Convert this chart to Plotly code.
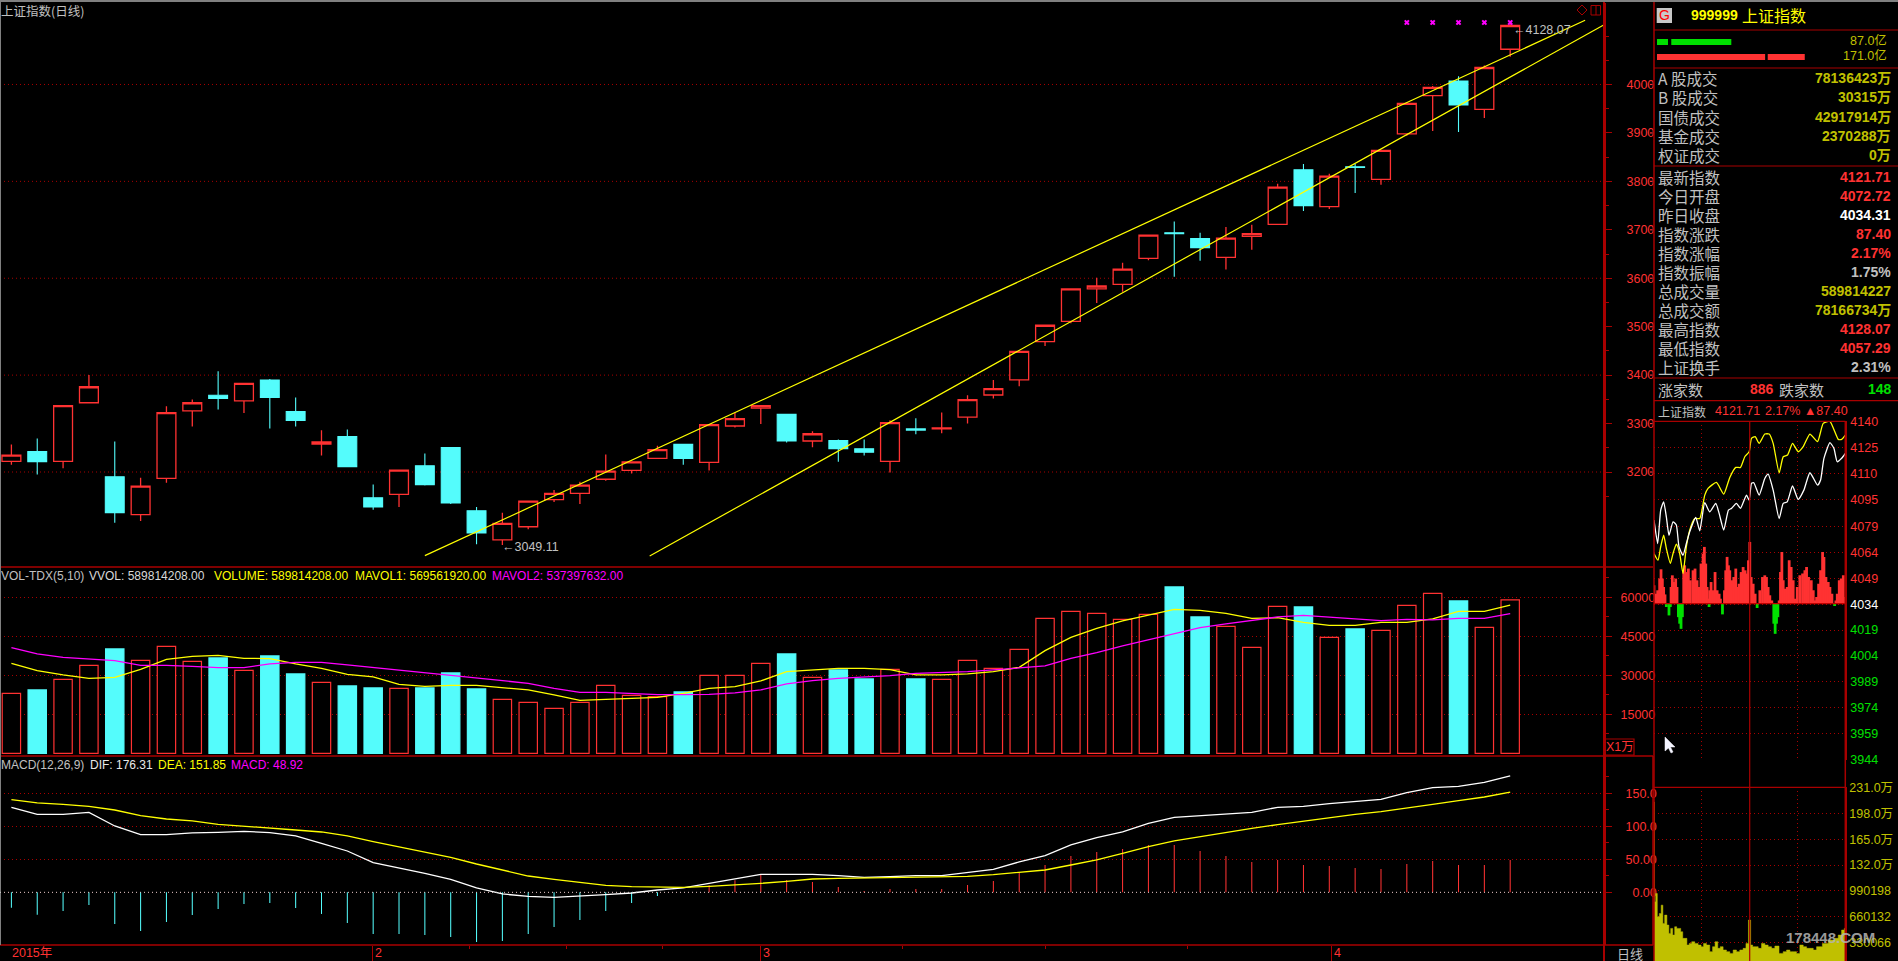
import plotly.graph_objects as go

# ---------- daily data ----------
OPENS = [3222,3242,3222,3343,3190,3112,3187,3326,3358.5,3347,3390,3325,3257.5,3273,3147,3154,3213,3250.5,3120,3060,3087,3143,3156,3185,3203.5,3228,3257,3220,3295,3332,3319,3264,3265,3248,3222,3289,3289,3313.5,3359,3390,3469,3511,3578,3587.5,3641,3694,3682,3643,3686.5,3711,3824,3748,3830,3804,3898,3977,4007,3948.5,4072.72]
HIGHS = [3257,3269,3337,3400,3263,3188,3336,3349.5,3408,3383,3392,3354,3286,3288,3174,3204,3238,3250.5,3128,3116,3140,3163,3180,3236,3221.5,3254,3257,3298,3322,3338,3319,3284,3267,3267,3307,3311,3323,3358.5,3390,3449,3503,3578,3601,3632,3689,3717,3694,3706,3710.5,3795,3836,3815.5,3836,3864,3961,3997,4017,4039,4128.07]
LOWS = [3215,3195,3208,3343,3095,3099,3178,3294,3329,3322,3290,3294,3234,3211,3122,3128,3172,3134,3051,3049.11,3082,3138,3134,3182,3197,3228,3215,3203,3292,3299,3261,3251,3221,3234,3199,3278,3280,3300,3352,3377,3460,3507,3549,3572,3637,3603,3636,3618,3659,3711,3739,3743,3776,3793,3894,3904,3902,3931,4057.29]
CLOSES = [3235,3221.5,3337,3376,3116,3171,3322.5,3343,3352,3383,3354,3306.5,3262,3211,3128,3204,3174,3136,3074,3094,3140,3156,3173,3202,3221,3246,3228,3298,3310,3337,3264,3279,3248,3241,3302,3286.5,3291,3349.5,3372,3449,3503,3578,3584,3619,3689,3692,3663,3683,3692,3788,3750,3811,3828.5,3864,3961,3994,3957.5,4035,4121.71]
DAYS = list(range(len(CLOSES)))
VOLUME = [23076,24358,28460,33845,40127,35768,41152,35383,36665,31922,37434,30512,27307,25896,25127,24999,25127,30896,24743,20768,19615,17307,19615,26153,22307,21794,23589,29999,29999,34614,38204,29230,32050,28589,32306,28589,28460,35768,32691,39998,51921,54613,53844,51536,53459,63972,52434,48844,40768,56536,56280,44614,47819,47306,56921,61536,58587,48460,58981]
MAVOL1 = [34614,31794,30127,28845,29230,32306,36152,37306,37691,36537,36409,34358,32691,30383,29358,26537,25768,26153,26153,25127,24358,22435,20384,20768,21281,21538,23076,24999,25640,27819,31409,32178,32691,32691,32178,30127,30127,30512,31409,33076,39486,44614,48075,50895,53203,55382,54998,53844,51921,52177,50383,49229,49229,50383,50383,51665,54613,54613,56956]
MAVOL2 = [40639,38204,36922,36281,35640,33845,33845,33460,32947,32947,34358,34999,34999,33973,32947,32050,30768,29999,28845,27819,26922,24999,23461,23461,22948,22563,22563,22691,23204,24358,26666,27948,28845,29358,29871,30768,31024,31409,32050,32691,33588,36537,38716,41280,43588,46152,48331,49742,51024,52434,53075,52434,51921,51024,51536,51280,51921,51921,53739]
DIF = [128.8,118.2,118.2,121.2,100.5,87.4,87.4,89.9,90.9,92.4,90.4,85.4,74.2,62.6,44.9,37.4,28.8,19.7,6.6,-2.5,-6.1,-7.6,-6.1,-3.5,-1,3.5,6.6,13.6,20.2,27.3,27.3,27.3,25.3,22.7,23.7,25.3,25.3,29.8,34.8,46,55.6,71.7,82.8,91.4,104.5,113.6,116.2,119.7,121.2,128.8,130.3,134.3,137.4,140.9,151,158.6,160.6,166.7,176.31]
DEA = [140.4,135.4,133.3,130.3,124.7,116.2,111.1,108.1,103,100.5,97.5,94.4,91.4,85.4,76.8,69.2,61.6,53,42.9,33.3,24.7,19.7,14.6,10.6,8.6,7.6,7.6,9.1,11.1,13.6,16.7,20.2,21.2,21.7,22.2,22.7,22.7,24.2,26.8,29.8,33.8,41.4,49,59.1,69.2,77.8,84.3,90.9,97,102.5,108.1,112.6,118.2,122.2,127.3,133.3,138.9,144.4,151.85]
MACD = [-23.2,-33.8,-28.3,-19.2,-48,-58.6,-44.9,-34.3,-25.3,-17.7,-16.2,-23.7,-32.8,-46.5,-63.1,-63.1,-64.6,-67.7,-75.3,-73.7,-63.1,-52.5,-41.9,-28.3,-16.2,-5.6,0,10.6,18.2,27.3,18.7,15.7,8.1,2,5,5,5,11.1,17.2,29.3,41.4,55,61.1,65.7,71.7,71.7,62.6,55,46,49,41.4,39.9,36.9,35.4,42.9,47.5,41.4,41.4,48.92]
TREND_UP_X = [16.0, 60.9]
TREND_UP_Y = [3027.3, 4132.5]
TREND_LOW_X = [24.7, 61.6]
TREND_LOW_Y = [3026.7, 4122.2]
SIGNAL_X = [54,55,56,57,58]
SIGNAL_Y = [4128,4128,4128,4128,4128]
PRICE_TICKS = [3200,3300,3400,3500,3600,3700,3800,3900,4000]
PRICE_MINOR = [3150,3250,3350,3450,3550,3650,3750,3850,3950,4050,4100]
PRICE_GRID = [3200,3400,3600,3800,4000]
VOL_TICKS = [15000,30000,45000,60000]
VOL_MINOR = [7500,22500,37500,52500,67500]
MACD_TICKS = [0,50,100,150]
MACD_LABELS = ["\u00a0\u00a00.00","50.00","100.0","150.0"]
MACD_MINOR = [25,75,125,175]
MONTH_TICKS = [13.96,29.0,51.07]
MONTH_MINOR = [17.72,21.47,25.2,34.5,40.0,45.5]

# ---------- intraday data ----------
W_T = [0,4.6,8.4,12.1,15.5,18.8,23.9,28,31.4,36.4,40.6,44.8,52.4,57.4,63.7,69.9,77.5,81.7,87.5,93.4,97.2,103.4,108.5,116,119.4,122.3,125.2,131.9,139,143.2,149.5,157,162.1,167.1,173.8,180.9,188,195.6,205.2,209,213.2,220.7,225.7,229.9,235.4,240]
W_P = [4082.9,4069.3,4088.7,4093.5,4084.8,4074.1,4081.9,4080,4067.4,4062.5,4069.3,4076.1,4084.4,4076.7,4093,4087.7,4092.6,4086.8,4077.1,4088.7,4089.7,4092.6,4089.7,4097.4,4094.5,4104.2,4104.6,4097.4,4107.1,4109.6,4100.3,4083.8,4092.6,4093.5,4102.7,4094.9,4100.3,4110.4,4103.2,4106.2,4118.8,4127.9,4124.6,4116.8,4118.8,4121.7]
Y_T = [0,5,8.4,12.1,15.5,20.5,23.9,28,32.2,36.4,40.6,44.8,51.1,57.4,63.7,67.8,78.3,87.5,95.1,102.6,108.5,113.9,119.4,122.3,126.9,131.9,139,144.5,149.5,157,162.1,167.5,173.8,180.9,187.2,195.6,205.2,212.3,220.7,231.2,235.4,240]
Y_P = [4063.5,4059.6,4067.4,4074.1,4066.4,4057.7,4063.5,4068.9,4063.5,4051.8,4067.4,4077.1,4083.8,4083.8,4097.4,4101.3,4104.8,4098,4107.7,4113.5,4113.5,4119.7,4122.6,4130.4,4131.4,4127.5,4132.9,4132.9,4127.5,4110.4,4119.7,4120.7,4127.5,4122.6,4125.6,4132.9,4128.5,4139.1,4140.3,4129.8,4129.8,4132.3]
S_T = [0,2.1,4.6,7.1,8.8,10.5,12.1,13.8,15.5,18.8,20.5,21.4,23,24.7,27.2,28.9,30.6,32.2,33.9,35.6,37.3,38.5,41.5,43.1,45.6,49,51.5,54,56.5,59,61.6,63.2,64.9,66.6,68.3,69.1,69.9,71.6,74.1,76.6,79.2,81.7,83.3,85.9,88.4,90,91.7,93.4,95.1,97.6,100.1,102.6,104.3,106.8,109.3,111.8,114.3,116.8,118.5,120.2,121.9,124.4,126.9,129.4,132.8,136.1,139,141.1,143.2,145.3,147.8,150.3,152,153.7,155.4,157,158.7,160.4,162.1,164.2,167.1,169.6,172.1,174.6,177.2,179.7,183,186.4,189.3,191.4,193.9,197.3,199.8,202.3,204,206.5,209,211.5,213.2,215.7,218.6,220.7,223.2,226.6,228.2,229.9,232.4,234.9,237.5,240]
S_V = [10.7,5.8,7.8,14.6,20,14.6,9.7,5.4,-1.9,-6.8,-1.9,9.7,16.5,12.6,14.6,9.7,-7.8,-11.6,-14.6,-7.8,19.4,22.3,18.4,20.4,13.6,19.4,20.4,13.6,9.7,23.3,29.1,33,23.3,9.7,2.9,-1.9,7.8,12.6,7.8,18.4,7.8,5.8,2.9,-6.2,7.8,19.4,27.2,22.3,19.4,13.6,15.5,20.4,9.7,11.6,18.4,21.3,19.4,17.5,25.2,35.9,15.5,11.6,5.8,-2.5,7.8,15.5,16.5,15.5,9.7,4.9,1.9,-11.6,-17.5,-11.6,-7.8,1.9,18.4,30.1,13.6,8.7,9.7,25.2,21.3,13.6,2.9,9.7,16.5,17.5,19.4,21.3,15.5,13.6,7.8,1.9,3.9,11.6,19.4,30.1,27.2,15.5,12.6,9.7,5.8,-1.4,1.9,5.8,13.6,14.6,16.5,3.9]
PREV_CLOSE = 4034.31
V_T = [0,1.3,2.9,5.4,8,10.1,12.1,14.7,17.6,19.7,22.2,24.7,27.2,29.7,32.2,34.8,37.3,39.8,42.7,45.6,49,53.2,57.4,60.7,63.7,67.8,72,75,78.3,81.7,84.6,88.8,93,97.2,101.4,105.5,109.7,113.9,116.8,120.2,122.3,125.2,128.6,132.8,137,141.1,145.3,149.5,153.7,160,164.2,168.4,172.6,176.7,180.9,185.1,189.3,193.5,197.7,201.9,206,210.2,212.3,216.5,220.7,224.9,229.1,233.2,237.5,240]
V_V = [212.2,85.2,95.8,66.2,70.4,81,57.7,68.3,55.6,45,51.4,42.9,53.5,51.4,51.4,47.1,38.7,38.7,30.2,32.3,34.4,32.3,30.2,28.1,32.3,30.2,21.8,28.1,34.4,26,28.1,23.9,21.8,19.6,23.9,21.8,23.9,26,32.3,62,30.2,28.1,28.1,26,32.3,30.2,28.1,26,28.9,19.6,21.8,23.9,21.8,21.8,19.6,30.2,28.1,26,26,23.9,28.1,28.1,32.3,32.3,36.6,36.6,38.7,42.9,49.3,51.4]
ID_PRICE_TICKS = [4140,4125,4110,4095,4079,4064,4049,4034,4019,4004,3989,3974,3959,3944]
ID_VOL_TICKS = [231,198,165,132,99.0198,66.0132,33.0066]
ID_VOL_LABELS = ["231.0万","198.0万","165.0万","132.0万","990198","660132","330066"]
TURN_GREEN_B = [0,16.5]
TURN_GREEN_L = [12.7,69.4]
TURN_RED_B = [0,128]
TURN_RED_L = [125,42.8]

# ---------- info table ----------
TOP_NAMES = ["A 股成交","B 股成交","国债成交","基金成交","权证成交"]
TOP_VALS = ["78136423万","30315万","42917914万","2370288万","0万"]
LOW_NAMES = ["最新指数","今日开盘","昨日收盘","指数涨跌","指数涨幅","指数振幅","总成交量","总成交额","最高指数","最低指数","上证换手"]
LOW_VALS = ["4121.71","4072.72","4034.31","87.40","2.17%","1.75%","589814227","78166734万","4128.07","4057.29","2.31%"]
RED, CYAN, OLIVE, GREY, WHITE, GREEN, DK, YEL, MAG = "#ff3232","#54fcfc","#c0c000","#c0c0c0","#ffffff","#00e000","#a80000","#ffff00","#ff00ff"
LOW_COLS = [RED,RED,WHITE,RED,RED,GREY,OLIVE,OLIVE,RED,RED,GREY]

W, H = 1898, 961
PX = lambda x: x / W
PY = lambda y: 1 - y / H
NARROW = "Liberation Sans, Noto Sans CJK SC"
CJK = "Noto Sans CJK SC, sans-serif"
BOLD = "Liberation Sans, Noto Sans CJK SC"
DOT = "1px,3px"

fig = go.Figure()
up = [c >= o for o, c in zip(OPENS, CLOSES)]

fig.add_trace(go.Candlestick(x=DAYS, open=OPENS, high=HIGHS, low=LOWS, close=CLOSES, whiskerwidth=0,
    increasing=dict(line=dict(color=RED, width=1.3), fillcolor="#000000"),
    decreasing=dict(line=dict(color=CYAN, width=1.1), fillcolor=CYAN), hoverinfo="skip"))
fig.add_trace(go.Scatter(x=TREND_UP_X, y=TREND_UP_Y, mode="lines", line=dict(color=YEL, width=1.2)))
fig.add_trace(go.Scatter(x=TREND_LOW_X, y=TREND_LOW_Y, mode="lines", line=dict(color=YEL, width=1.2)))
fig.add_trace(go.Scatter(x=SIGNAL_X, y=SIGNAL_Y, mode="markers", marker=dict(symbol="x", size=5, color=MAG, line=dict(width=0))))

fig.add_trace(go.Bar(x=DAYS, y=VOLUME, xaxis="x2", yaxis="y2",
    marker=dict(color=["#000000" if u else CYAN for u in up],
                line=dict(color=[RED if u else CYAN for u in up], width=1.2))))
fig.add_trace(go.Scatter(x=DAYS, y=MAVOL1, xaxis="x2", yaxis="y2", mode="lines", line=dict(color=YEL, width=1.3)))
fig.add_trace(go.Scatter(x=DAYS, y=MAVOL2, xaxis="x2", yaxis="y2", mode="lines", line=dict(color=MAG, width=1.3)))

fig.add_trace(go.Bar(x=DAYS, y=MACD, xaxis="x3", yaxis="y3", width=0.04,
    marker=dict(color=[RED if v > 0 else CYAN for v in MACD], line=dict(width=0))))
fig.add_trace(go.Scatter(x=DAYS, y=DIF, xaxis="x3", yaxis="y3", mode="lines", line=dict(color=WHITE, width=1.3)))
fig.add_trace(go.Scatter(x=DAYS, y=DEA, xaxis="x3", yaxis="y3", mode="lines", line=dict(color=YEL, width=1.3)))

fig.add_trace(go.Bar(x=S_T, y=S_V, base=PREV_CLOSE, xaxis="x4", yaxis="y4", width=3.5,
    marker=dict(color=[RED if v > 0 else GREEN for v in S_V], line=dict(width=0))))
fig.add_trace(go.Scatter(x=Y_T, y=Y_P, xaxis="x4", yaxis="y4", mode="lines", line=dict(color=YEL, width=1.3, shape="spline", smoothing=0.5)))
fig.add_trace(go.Scatter(x=W_T, y=W_P, xaxis="x4", yaxis="y4", mode="lines", line=dict(color=WHITE, width=1.3, shape="spline", smoothing=0.5)))
fig.add_trace(go.Scatter(x=V_T, y=V_V, xaxis="x5", yaxis="y5", mode="lines", fill="tozeroy", fillcolor=OLIVE,
    line=dict(color=OLIVE, width=0.5, shape="hvh")))

fig.add_trace(go.Bar(x=TURN_GREEN_L, base=TURN_GREEN_B, y=[1, 1], orientation="h", xaxis="x6", yaxis="y6", width=0.4, marker=dict(color="#00e000", line=dict(width=0))))
fig.add_trace(go.Bar(x=TURN_RED_L, base=TURN_RED_B, y=[0, 0], orientation="h", xaxis="x6", yaxis="y6", width=0.4, marker=dict(color=RED, line=dict(width=0))))

# ---------- axes ----------
xr = [-0.441, 61.63]
dom_x = [0, PX(1604)]
hide = dict(showgrid=False, zeroline=False, showticklabels=False, ticks="")
layout = dict(
    template="none",
    width=W, height=H, margin=dict(l=0, r=0, t=0, b=0, pad=0), autosize=False,
    paper_bgcolor="#000000", plot_bgcolor="#000000", showlegend=False, hovermode=False, barmode="overlay",
    bargap=0.29, boxmode="group", boxgap=0.27, boxgroupgap=0, font=dict(family=NARROW, color=GREY, size=12),
    xaxis=dict(domain=dom_x, range=xr, anchor="y", rangeslider=dict(visible=False), **hide),
    xaxis2=dict(domain=dom_x, range=xr, anchor="y2", **hide),
    xaxis3=dict(domain=dom_x, range=xr, anchor="y3", showgrid=False, zeroline=False, showticklabels=False,
                ticks="outside", side="bottom", tickmode="array", tickvals=MONTH_TICKS, ticklen=16, tickcolor=DK, tickwidth=1,
                minor=dict(tickmode="array", tickvals=MONTH_MINOR, ticks="outside", ticklen=3, tickcolor=DK, tickwidth=1)),
    yaxis=dict(domain=[PY(567), PY(3)], range=[3003.9, 4168.2], anchor="x", side="right", showgrid=False, zeroline=False,
               showline=True, linecolor=DK, linewidth=2, tickmode="array", tickvals=PRICE_TICKS, ticks="outside", ticklen=6, tickcolor=DK,
               tickfont=dict(color=RED, size=12.5, family=NARROW), ticklabelstandoff=12,
               minor=dict(tickmode="array", tickvals=PRICE_MINOR, ticks="outside", ticklen=3, tickcolor=DK)),
    yaxis2=dict(domain=[PY(756), PY(567)], range=[-1038, 71654], anchor="x2", side="right", showgrid=True, griddash=DOT, gridcolor=DK, zeroline=False,
                showline=True, linecolor=DK, linewidth=2, tickmode="array", tickvals=VOL_TICKS, ticks="outside", ticklen=6, tickcolor=DK,
                tickfont=dict(color=RED, size=12.5, family=NARROW), ticklabelstandoff=6, tickformat="d",
                minor=dict(tickmode="array", tickvals=VOL_MINOR, ticks="outside", ticklen=3, tickcolor=DK, showgrid=False)),
    yaxis3=dict(domain=[PY(945), PY(756)], range=[-79.8, 206.5], anchor="x3", side="right", showgrid=True, griddash=DOT, gridcolor=DK, zeroline=False,
                showline=True, linecolor=DK, linewidth=2, tickmode="array", tickvals=MACD_TICKS, ticktext=MACD_LABELS, ticks="outside", ticklen=6, tickcolor=DK,
                tickfont=dict(color=RED, size=12.5, family=NARROW), ticklabelstandoff=11,
                minor=dict(tickmode="array", tickvals=MACD_MINOR, ticks="outside", ticklen=3, tickcolor=DK, showgrid=False)),
    xaxis4=dict(domain=[PX(1654), PX(1845.3)], range=[0, 240], anchor="y4", showgrid=True, griddash=DOT, gridcolor=DK, zeroline=False,
                showticklabels=False, ticks="", tickmode="array", tickvals=[60, 180]),
    xaxis5=dict(domain=[PX(1654), PX(1845.3)], range=[0, 240], anchor="y5", showgrid=True, griddash=DOT, gridcolor=DK, zeroline=False,
                showticklabels=False, ticks="", tickmode="array", tickvals=[60, 180]),
    xaxis6=dict(domain=[PX(1657), PX(1807)], range=[0, 173.4], anchor="y6", **hide),
    yaxis6=dict(domain=[PY(64.5), PY(34.5)], range=[-0.5, 1.5], anchor="x6", **hide),
    yaxis4=dict(domain=[PY(760), PY(421.3)], range=[3943.5, 4140.3], anchor="x4", side="right", showgrid=True, griddash=DOT, gridcolor=DK, zeroline=False,
                showline=True, linecolor=DK, linewidth=1.5, tickmode="array",
                tickvals=ID_PRICE_TICKS, ticks="", ticklabelstandoff=1, tickfont=dict(size=12.5, family=NARROW),
                ticktext=[f"<span style='color:{RED if v > 4034 else (WHITE if v == 4034 else GREEN)}'>{v}</span>" for v in ID_PRICE_TICKS]),
    yaxis5=dict(domain=[PY(961), PY(787.3)], range=[9.9, 231], anchor="x5", side="right", showgrid=True, griddash=DOT, gridcolor=DK, zeroline=False,
                showline=True, linecolor=DK, linewidth=1.5, tickmode="array",
                tickvals=ID_VOL_TICKS, ticktext=ID_VOL_LABELS, ticks="", ticklabelstandoff=0, tickfont=dict(color=OLIVE, size=12.5, family=NARROW)),
)

# ---------- frame lines ----------
shapes = []
def seg(x0, y0, x1, y1, color=DK, width=1.5, dash="solid"):
    shapes.append(dict(type="line", xref="paper", yref="paper", x0=PX(x0), x1=PX(x1), y0=PY(y0), y1=PY(y1), line=dict(color=color, width=width, dash=dash), layer="above"))

for yy in (567, 756, 945):
    seg(0, yy, 1653, yy, width=1.5)
seg(1604, 0, 1604, 961, width=2)
seg(1654, 0, 1654, 961, width=1.5)
seg(1653, 756, 1653, 945, width=1.5)
for yy in (30, 68, 166, 378, 400.7, 421.3, 787.3):
    seg(1654, yy, 1898 if yy < 420 else 1845.3, yy, width=1.2)
seg(0, 1, W, 1, color="#808080", width=2)
seg(0.5, 0, 0.5, 945, color="#808080", width=1)
seg(1749.7, 421.3, 1749.7, 961, width=1.2)
seg(1845.3, 421.3, 1845.3, 961, width=1.5)
# red prev-close line, grid lines, zero line
shapes.append(dict(type="line", xref="paper", yref="y4", x0=PX(1654), x1=PX(1845.3), y0=PREV_CLOSE, y1=PREV_CLOSE, line=dict(color="#c00000", width=1.2)))
for v in PRICE_GRID:
    shapes.append(dict(type="line", xref="paper", yref="y", x0=0, x1=PX(1604), y0=v, y1=v, layer="below", line=dict(color=DK, width=1, dash=DOT)))
shapes.append(dict(type="line", xref="paper", yref="y3", x0=0, x1=PX(1604), y0=0, y1=0, line=dict(color="#d0d0d0", width=1, dash=DOT)))
for v in PRICE_TICKS[2:] + PRICE_TICKS[:2]:
    shapes.append(dict(type="line", xref="paper", yref="y", x0=PX(1650), x1=PX(1652.5), y0=v, y1=v, line=dict(color=RED, width=1.2)))
# X1万 box, icon boxes, G badge
shapes.append(dict(type="rect", xref="paper", yref="paper", x0=PX(1604), x1=PX(1634), y0=PY(755), y1=PY(739), line=dict(color=DK, width=1.2)))
shapes.append(dict(type="path", xref="paper", yref="paper", path=f"M {PX(1582)} {PY(5)} L {PX(1587)} {PY(10)} L {PX(1582)} {PY(15)} L {PX(1577)} {PY(10)} Z", line=dict(color=DK, width=1)))
shapes.append(dict(type="rect", xref="paper", yref="paper", x0=PX(1591), x1=PX(1600.5), y0=PY(15), y1=PY(5.5), line=dict(color=DK, width=1)))
shapes.append(dict(type="line", xref="paper", yref="paper", x0=PX(1596), x1=PX(1596), y0=PY(15), y1=PY(5.5), line=dict(color=DK, width=1)))
shapes.append(dict(type="rect", xref="paper", yref="paper", x0=PX(1656.7), x1=PX(1672), y0=PY(23), y1=PY(8), fillcolor="#c8c8c8", line=dict(width=0)))
# mouse cursor
shapes.append(dict(type="path", xref="paper", yref="paper", fillcolor="#f4f4ff", line=dict(color="#f4f4ff", width=0.5),
    path=f"M {PX(1665)} {PY(737)} L {PX(1665)} {PY(751)} L {PX(1668.5)} {PY(748)} L {PX(1671)} {PY(753)} L {PX(1673)} {PY(752)} L {PX(1670.5)} {PY(747)} L {PX(1675)} {PY(747)} Z"))
layout["shapes"] = shapes

# ---------- text ----------
ann = []
def T(text, x, y, color=GREY, size=12, anchor="left", family=NARROW, bold=False, **kw):
    if bold:
        text = f"<b>{text}</b>"
    ann.append(dict(text=text, x=PX(x), y=PY(y), xref="paper", yref="paper", showarrow=False, xanchor=anchor, yanchor="middle",
                    borderpad=0, font=dict(color=color, size=size, family=family), **kw))

T("上证指数(日线)", 0, 10, size=12.5, family=CJK)
T("←3049.11", 501, 546.7, size=12.5)
T("←4128.07", 1512, 30, size=12.5)
T("VOL-TDX(5,10)", 0, 575.7)
T("VVOL: 589814208.00", 88, 575.7, color="#d8d8d8")
T("VOLUME: 589814208.00", 213, 575.7, color=YEL)
T("MAVOL1: 569561920.00", 354, 575.7, color=YEL)
T("MAVOL2: 537397632.00", 491, 575.7, color=MAG)
T("MACD(12,26,9)", 0, 764.7)
T("DIF: 176.31", 89, 764.7, color="#e8e8e8")
T("DEA: 151.85", 157, 764.7, color=YEL)
T("MACD: 48.92", 230, 764.7, color=MAG)
T("2015年", 11, 953, color=RED, size=12.5)
T("2", 374, 953, color=RED, size=12.5)
T("3", 762, 953, color=RED, size=12.5)
T("4", 1333, 953, color=RED, size=12.5)
T("X1万", 1605, 747, color=RED, size=12.5)
T("日线", 1616, 953, size=13, family=CJK)
T("G", 1664.3, 15.5, color="#ff0000", size=14, anchor="center", family=BOLD)
T("999999", 1690, 15.5, color=YEL, size=14, family=BOLD, bold=True)
T("上证指数", 1741, 15.5, color=YEL, size=16, family=CJK)
T("87.0亿", 1888, 41, color=OLIVE, size=12.5, anchor="right")
T("171.0亿", 1888, 55.7, color=OLIVE, size=12.5, anchor="right")
for k, (n, v) in enumerate(zip(TOP_NAMES, TOP_VALS)):
    yy = 78.3 + 19.1 * k
    T(n, 1657, yy, size=15.5, family=CJK)
    T(v, 1892, yy, color=OLIVE, size=14, anchor="right", family=BOLD, bold=True)
for k, (n, v, c) in enumerate(zip(LOW_NAMES, LOW_VALS, LOW_COLS)):
    yy = 176.7 + 19 * k
    T(n, 1657, yy, size=15.5, family=CJK)
    T(v, 1892, yy, color=c, size=14, anchor="right", family=BOLD, bold=True)
T("涨家数", 1657, 389.3, size=15, family=CJK)
T("886", 1748.5, 389.3, color=RED, size=14, family=BOLD, bold=True)
T("跌家数", 1778, 389.3, size=15, family=CJK)
T("148", 1892.5, 389.3, color=GREEN, size=14, anchor="right", family=BOLD, bold=True)
T("上证指数", 1657, 411.3, size=12, family=CJK)
T("4121.71", 1713.5, 411.3, color=RED, size=12.5)
T("2.17%", 1763.5, 411.3, color=RED, size=12.5)
T("▲87.40", 1802.5, 411.3, color=RED, size=12.5)
T("178448.COM", 1830, 937, color="#b4b4b4", size=15, anchor="center", bold=True, opacity=0.85)
layout["annotations"] = ann

fig.update_layout(**layout)
fig.write_html("out.html", config=dict(displayModeBar=False, staticPlot=True),
               post_script="document.body.style.margin='0';document.body.style.overflow='hidden';")
